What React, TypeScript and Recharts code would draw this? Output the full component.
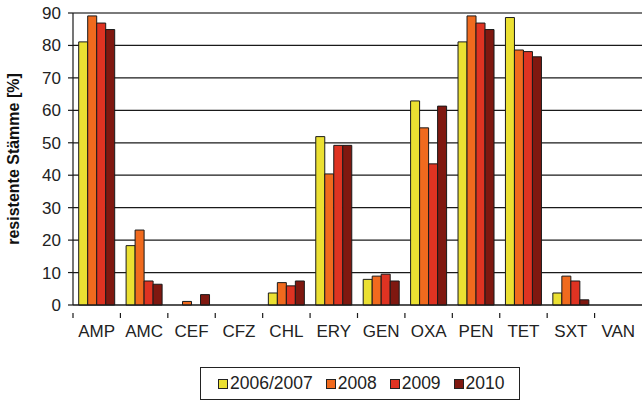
import { BarChart, Bar, XAxis, YAxis, CartesianGrid, ReferenceLine } from "recharts";

const categories = ["AMP", "AMC", "CEF", "CFZ", "CHL", "ERY", "GEN", "OXA", "PEN", "TET", "SXT", "VAN"];
const y2006 = [81.1, 18.3, 0, 0, 3.7, 51.9, 7.9, 62.9, 81.1, 88.6, 3.7, 0];
const y2008 = [89.1, 23.1, 1.1, 0, 6.9, 40.4, 8.9, 54.6, 89.1, 78.6, 8.9, 0];
const y2009 = [86.9, 7.4, 0, 0, 5.9, 49.2, 9.5, 43.5, 86.9, 78.1, 7.4, 0];
const y2010 = [84.9, 6.4, 3.2, 0, 7.4, 49.2, 7.4, 61.3, 84.9, 76.5, 1.6, 0];
const yTicks = [0, 10, 20, 30, 40, 50, 60, 70, 80, 90];

const series = [
  { key: "y2006", name: "2006/2007", color: "#ebe032" },
  { key: "y2008", name: "2008", color: "#f06a1e" },
  { key: "y2009", name: "2009", color: "#df3322" },
  { key: "y2010", name: "2010", color: "#7f1810" },
];

const data = categories.map((c, i) => ({
  name: c,
  y2006: y2006[i],
  y2008: y2008[i],
  y2009: y2009[i],
  y2010: y2010[i],
}));

const W = 642;
const H = 404;
const LEFT = 73;
const PLOT_W = W - LEFT;
const HALF_BAND = PLOT_W / categories.length / 2;
const FONT = "'Liberation Sans', Arial, sans-serif";

function CategoryTick(props: any) {
  const { x, y, payload } = props;
  const bx = x - HALF_BAND;
  return (
    <g>
      <line x1={bx} y1={y} x2={bx} y2={y + 5} stroke="#1a1a1a" strokeWidth={1.2} />
      <text x={x} y={y + 24} textAnchor="middle" fontSize={17} fill="#222" fontFamily={FONT}>
        {payload.value}
      </text>
    </g>
  );
}

function LegendBox() {
  return (
    <div
      style={{
        position: "absolute",
        left: 200,
        top: 367,
        width: 320,
        height: 33,
        border: "1px solid #222",
        boxSizing: "border-box",
        display: "flex",
        alignItems: "center",
        paddingLeft: 17,
        fontFamily: FONT,
        fontSize: 17.5,
        color: "#222",
      }}
    >
      {series.map((s) => (
        <div key={s.key} style={{ display: "flex", alignItems: "center", marginRight: 13 }}>
          <span
            style={{
              width: 8,
              height: 8,
              background: s.color,
              border: "1.5px solid #222",
              marginRight: 2,
              display: "inline-block",
            }}
          />
          <span>{s.name}</span>
        </div>
      ))}
    </div>
  );
}

export default function App() {
  return (
    <div style={{ position: "absolute", left: 0, top: 0, width: W, height: H, background: "#fff" }}>
      <BarChart
        width={W}
        height={H}
        data={data}
        margin={{ top: 13, right: 0, left: 0, bottom: 69 }}
        barCategoryGap="12%"
        barGap={0}
      >
        <CartesianGrid horizontal vertical={false} stroke="#1a1a1a" strokeWidth={1.2} />
        <ReferenceLine y={90} stroke="#7a7a7a" strokeWidth={2} />
        <XAxis
          dataKey="name"
          height={30}
          tickLine={false}
          axisLine={{ stroke: "#1a1a1a", strokeWidth: 1.2 }}
          tick={<CategoryTick />}
          interval={0}
        />
        <YAxis
          width={LEFT}
          domain={[0, 90]}
          ticks={yTicks}
          interval={0}
          tickSize={5}
          tickMargin={7}
          tickLine={{ stroke: "#1a1a1a", strokeWidth: 1.2 }}
          axisLine={{ stroke: "#1a1a1a", strokeWidth: 1.2 }}
          tick={{ fontSize: 17, fill: "#222", fontFamily: FONT }}
          label={{
            value: "resistente Stämme [%]",
            angle: -90,
            position: "insideLeft",
            offset: 0,
            dx: 13,
            style: { textAnchor: "middle", fontSize: 16, fontWeight: "bold", fill: "#111", fontFamily: FONT },
          }}
        />
        {series.map((s) => (
          <Bar
            key={s.key}
            dataKey={s.key}
            name={s.name}
            fill={s.color}
            stroke="#1a1a1a"
            strokeWidth={1}
            isAnimationActive={false}
          />
        ))}
      </BarChart>
      <LegendBox />
    </div>
  );
}
